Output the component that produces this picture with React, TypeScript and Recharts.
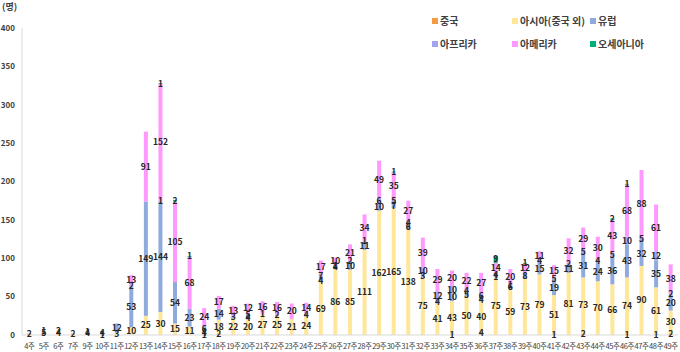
import { BarChart, Bar, XAxis, YAxis, LabelList } from "recharts";

const weeks = [
  "4주", "5주", "6주", "7주", "9주", "10주", "11주", "12주", "13주", "14주",
  "15주", "16주", "17주", "18주", "19주", "20주", "21주", "22주", "23주", "24주",
  "25주", "26주", "27주", "28주", "29주", "30주", "31주", "32주", "33주", "34주",
  "35주", "36주", "37주", "38주", "39주", "40주", "41주", "42주", "43주", "44주",
  "45주", "46주", "47주", "48주", "49주",
];

const china = [2, 5, 4, 2, 0, 0, 0, 0, 0, 0, 0, 0, 1, 2, 0, 0, 0, 0, 0, 0, 0, 0, 0, 0, 0, 0, 0, 0, 0, 1, 0, 4, 0, 0, 0, 0, 1, 0, 2, 0, 0, 1, 0, 1, 2];
const asia = [0, 1, 2, 0, 4, 1, 3, 10, 25, 30, 15, 11, 4, 18, 22, 20, 27, 25, 21, 24, 69, 86, 85, 111, 162, 165, 138, 75, 41, 43, 50, 40, 75, 59, 73, 79, 51, 81, 73, 70, 66, 74, 90, 61, 30];
const europe = [0, 0, 0, 0, 1, 4, 12, 53, 149, 144, 54, 23, 6, 14, 3, 4, 1, 2, 0, 4, 4, 4, 10, 11, 10, 7, 6, 3, 4, 10, 5, 4, 1, 6, 8, 15, 19, 11, 31, 24, 36, 43, 32, 35, 20];
const africa = [0, 0, 0, 0, 0, 0, 0, 2, 0, 1, 0, 0, 0, 0, 0, 5, 0, 0, 0, 0, 7, 1, 2, 1, 6, 5, 4, 10, 12, 10, 4, 6, 4, 1, 0, 4, 5, 2, 5, 4, 5, 10, 5, 12, 2];
const america = [0, 0, 0, 0, 0, 0, 0, 13, 91, 152, 105, 68, 24, 17, 13, 12, 16, 16, 20, 14, 17, 10, 21, 34, 49, 35, 27, 39, 29, 20, 22, 27, 14, 20, 12, 11, 15, 32, 29, 30, 43, 68, 88, 61, 38];
const oceania = [0, 0, 0, 0, 0, 0, 0, 0, 0, 1, 2, 1, 0, 0, 0, 0, 0, 0, 0, 0, 0, 0, 0, 0, 0, 1, 0, 0, 0, 0, 0, 0, 9, 0, 1, 0, 0, 0, 0, 0, 2, 1, 0, 0, 0];

const yTicks = [0, 50, 100, 150, 200, 250, 300, 350, 400];

const series = [
  { key: "china", name: "중국", color: "#F59A45" },
  { key: "asia", name: "아시아(중국 외)", color: "#FFE699" },
  { key: "europe", name: "유럽", color: "#8FAADC" },
  { key: "africa", name: "아프리카", color: "#A3A3F0" },
  { key: "america", name: "아메리카", color: "#FF99FF" },
  { key: "oceania", name: "오세아니아", color: "#00B07A" },
];

const data = weeks.map((w, i) => ({
  week: w,
  china: china[i],
  asia: asia[i],
  europe: europe[i],
  africa: africa[i],
  america: america[i],
  oceania: oceania[i],
}));

const font = "'Noto Sans CJK KR', 'Noto Sans', sans-serif";

const legendPos = [
  { x: 432, y: 20 },
  { x: 512, y: 20 },
  { x: 590, y: 20 },
  { x: 432, y: 43 },
  { x: 512, y: 43 },
  { x: 590, y: 43 },
];

const showLabel = (v: any) => (v ? v : "");

export default function App() {
  return (
    <div style={{ position: "absolute", left: 0, top: 0, width: 680, height: 352, background: "#fff", fontFamily: font }}>
      <div style={{ position: "absolute", left: 2, top: 0, fontSize: 9, fontWeight: 700, color: "#404040" }}>(명)</div>
      {series.map((s, i) => (
        <div
          key={s.key}
          style={{
            position: "absolute",
            left: legendPos[i].x,
            top: legendPos[i].y - 7,
            display: "flex",
            alignItems: "center",
            fontSize: 10,
            fontWeight: 700,
            color: "#404040",
            whiteSpace: "nowrap",
          }}
        >
          <span style={{ display: "inline-block", width: 6, height: 6, background: s.color, marginRight: 2 }} />
          {s.name}
        </div>
      ))}
      <BarChart
        width={680}
        height={352}
        data={data}
        margin={{ top: 28, right: 2, bottom: 0, left: 0 }}
        barCategoryGap="36%"
      >
        <XAxis
          dataKey="week"
          interval={0}
          height={17}
          tickLine={false}
          tickSize={0}
          axisLine={{ stroke: "#d9d9d9" }}
          tick={{ fontSize: 7.5, fill: "#404040", fontFamily: font, letterSpacing: -0.4 }}
          tickMargin={9}
        />
        <YAxis
          width={22}
          domain={[0, 400]}
          ticks={yTicks}
          tickLine={false}
          tickSize={0}
          axisLine={{ stroke: "#d9d9d9" }}
          tick={{ fontSize: 8, fill: "#404040", fontFamily: font, fontWeight: 700 }}
          tickMargin={7}
        />
        {series.map((s) => (
          <Bar key={s.key} dataKey={s.key} name={s.name} stackId="a" fill={s.color} isAnimationActive={false}>
            <LabelList
              dataKey={s.key}
              position="center"
              formatter={showLabel}
              style={{ fontSize: 8.5, fontWeight: 700, fill: "#262626", fontFamily: font }}
            />
          </Bar>
        ))}
      </BarChart>
    </div>
  );
}
